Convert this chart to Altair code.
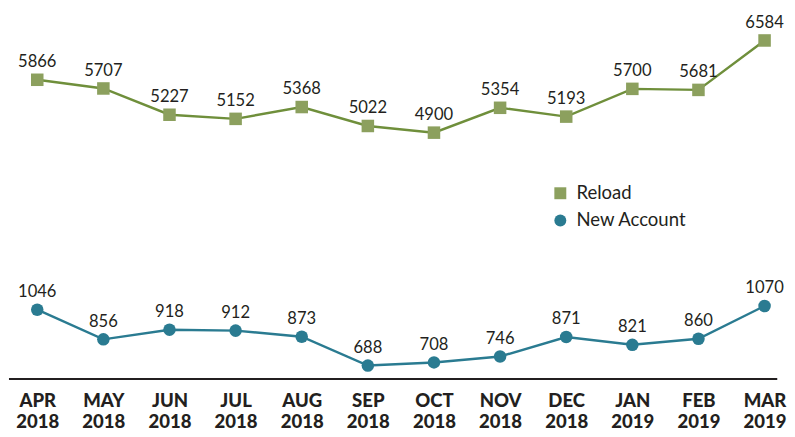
import altair as alt
import pandas as pd

months = ["APR 2018", "MAY 2018", "JUN 2018", "JUL 2018", "AUG 2018", "SEP 2018",
          "OCT 2018", "NOV 2018", "DEC 2018", "JAN 2019", "FEB 2019", "MAR 2019"]
reload_vals = [5866, 5707, 5227, 5152, 5368, 5022, 4900, 5354, 5193, 5700, 5681, 6584]
new_account_vals = [1046, 856, 918, 912, 873, 688, 708, 746, 871, 821, 860, 1070]
series_names = ["Reload", "New Account"]

GREEN = "#6f8f3b"
GREEN_FILL = "#8ca05e"
TEAL = "#2a7b91"
TEXT = "#231f20"
FONT = "Lato"

rows = []
for m, v in zip(months, reload_vals):
    rows.append({"month": m, "series": "Reload", "value": v})
for m, v in zip(months, new_account_vals):
    rows.append({"month": m, "series": "New Account", "value": v})
df = pd.DataFrame(rows)

W, H = 784, 370

x_enc = alt.X("month:N", sort=months,
              scale=alt.Scale(range=[25, 771], padding=0),
              axis=alt.Axis(title=None, domain=False, ticks=False, grid=False,
                            labelAngle=0, labelFont=FONT, labelFontWeight=900,
                            labelFontSize=19, labelColor=TEXT, labelPadding=13,
                            labelLineHeight=22, labelBaseline="top",
                            labelExpr="split(datum.label, ' ')"))

color_scale = alt.Scale(domain=series_names, range=[GREEN_FILL, TEAL])
shape_scale = alt.Scale(domain=series_names, range=["square", "circle"])


def series_layer(name, line_color, domain):
    base = alt.Chart(df).transform_filter(alt.datum.series == name)
    y = alt.Y("value:Q", scale=alt.Scale(domain=domain, zero=False, nice=False), axis=None)
    line = base.mark_line(color=line_color, strokeWidth=2.5).encode(x=x_enc, y=y)
    pts = base.mark_point(filled=True, opacity=1, size=165).encode(
        x=x_enc, y=y,
        color=alt.Color("series:N", scale=color_scale,
                        legend=alt.Legend(title=None, orient="none", legendX=552, legendY=170,
                                          labelFont=FONT, labelFontSize=19, labelColor=TEXT,
                                          symbolSize=150, rowPadding=8, labelOffset=7)),
        shape=alt.Shape("series:N", scale=shape_scale, legend=None),
    )
    txt = base.mark_text(dy=-13, baseline="alphabetic", font=FONT, fontSize=17,
                         color=TEXT).encode(x=x_enc, y=y, text="value:Q")
    return alt.layer(line, pts, txt)


reload_layer = series_layer("Reload", GREEN, [400, 6990])
new_layer = series_layer("New Account", TEAL, [602, 2914])

axis_line = alt.Chart(pd.DataFrame({"a": [0]})).mark_rule(
    color=TEXT, strokeWidth=2).encode(
    x=alt.value(-4), x2=alt.value(W), y=alt.value(H))

chart = alt.layer(reload_layer, new_layer, axis_line).resolve_scale(
    y="independent"
).properties(
    width=W, height=H, padding={"left": 0, "top": 0, "right": 0, "bottom": 0}
).configure_view(stroke=None)

chart.save("out.html", embed_options={"renderer": "svg", "actions": False})
